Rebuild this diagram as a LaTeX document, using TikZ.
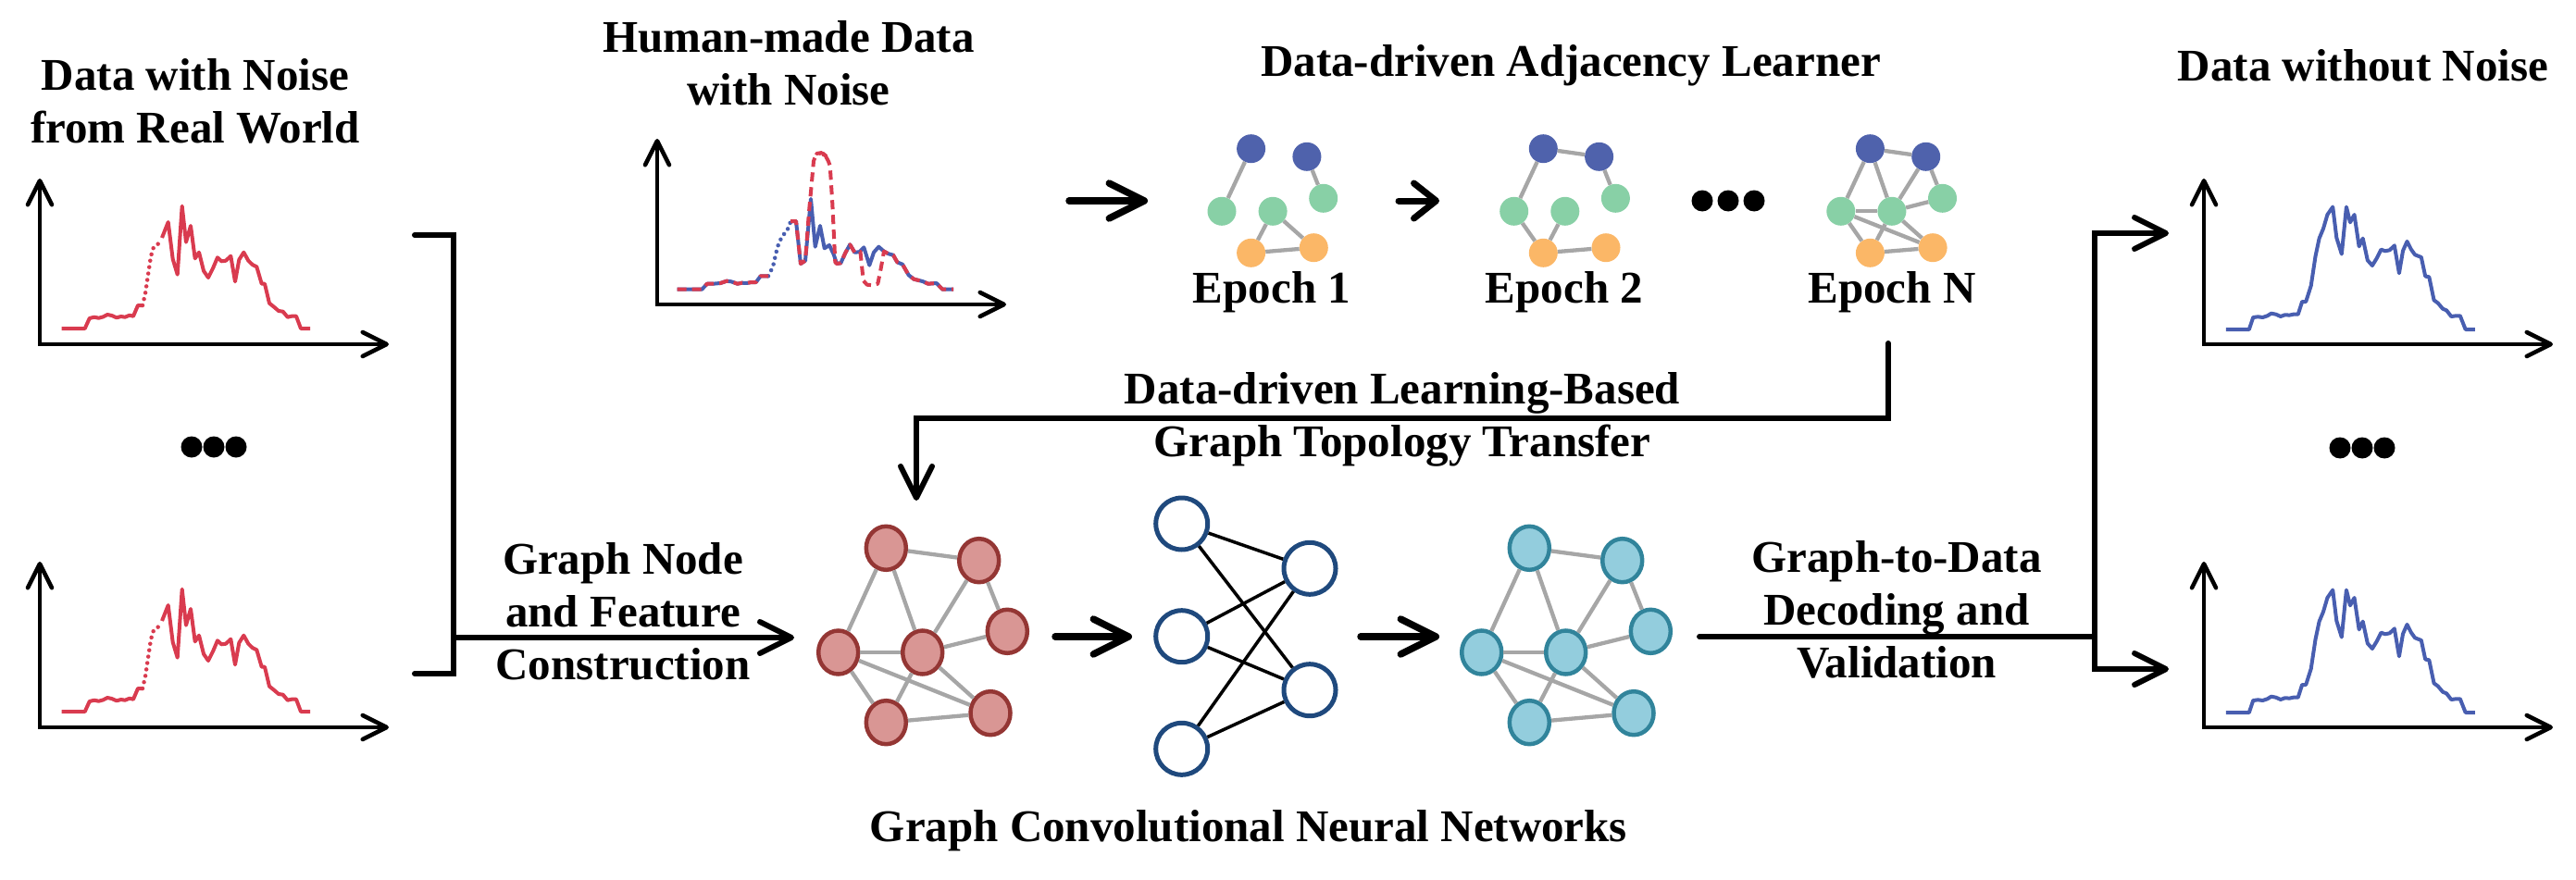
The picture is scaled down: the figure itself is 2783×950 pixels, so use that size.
\documentclass[tikz,border=0pt]{standalone}
\usepackage{fontspec}
\setmainfont{Liberation Serif}
\usetikzlibrary{arrows.meta,shapes.geometric}
\definecolor{cred}{RGB}{217,59,79}
\definecolor{cblue}{RGB}{72,94,176}
\definecolor{gblue}{RGB}{79,98,172}
\definecolor{ggreen}{RGB}{136,208,166}
\definecolor{gorange}{RGB}{251,183,103}
\definecolor{edgegray}{RGB}{166,166,166}
\definecolor{rfill}{RGB}{217,150,148}
\definecolor{rdraw}{RGB}{148,54,52}
\definecolor{cfill}{RGB}{147,205,221}
\definecolor{cdraw}{RGB}{49,132,155}
\definecolor{nnblue}{RGB}{31,73,125}
\tikzset{
  lbl/.style={font=\fontsize{49}{57}\selectfont\bfseries, align=center, inner sep=0pt},
  axes/.style={line width=4.5pt, line cap=round, line join=miter, {Straight Barb[length=26pt,width=26pt,round]}-{Straight Barb[length=26pt,width=26pt,round]}},
  curve/.style={line width=4pt, line join=round},
  dotcurve/.style={line width=4.5pt, line cap=round, dash pattern=on 0pt off 7pt},
  dashcurve/.style={line width=4pt, line join=round, dash pattern=on 10pt off 6pt},
  bigarrow/.style={line width=7.5pt, line cap=round, -{Straight Barb[length=38pt,width=38pt,round]}},
  smallarrow/.style={line width=7pt, line cap=round, -{Straight Barb[length=24pt,width=38pt,round]}},
  conn/.style={line width=6pt, line cap=round, line join=miter},
  connarrow/.style={conn, -{Straight Barb[length=34pt,width=34pt,round]}},
  gedge/.style={edgegray, line width=4.3pt},
  nnedge/.style={black, line width=3.5pt},
  enode/.style={circle, minimum size=31pt, inner sep=0pt},
  bn/.style={enode, fill=gblue},
  gn/.style={enode, fill=ggreen},
  on/.style={enode, fill=gorange},
  rnode/.style={ellipse, minimum width=43pt, minimum height=47pt, inner sep=0pt, fill=rfill, draw=rdraw, line width=4.5pt},
  cnode/.style={ellipse, minimum width=43pt, minimum height=47pt, inner sep=0pt, fill=cfill, draw=cdraw, line width=4.5pt},
  nnode/.style={circle, minimum size=56pt, inner sep=0pt, draw=nnblue, line width=5pt, fill=white},
  pics/redplot/.style={code={
    \draw[axes] (0,-179) -- (0,0) -- (377,0);
    \draw[curve,cred] (23.7,-17) -- (48.7,-17) -- (53.7,-28) -- (58.7,-29.3) -- (63.7,-28.3) -- (68.7,-29.7) -- (73,-32) -- (77.7,-31) -- (83,-28.7) -- (87.7,-30) -- (92,-29.3) -- (97,-31.3) -- (101,-30.3) -- (106,-42) -- (111,-42);
    \draw[dotcurve,cred] (111,-42) -- (114,-55) -- (117,-75) -- (120,-95) -- (123,-105) -- (130,-110);
    \draw[curve,cred] (132,-115) -- (138.7,-132) -- (143.7,-92) -- (148.7,-75.3) -- (153.7,-149.3) -- (158,-110.3) -- (163,-128) -- (167.7,-92.7) -- (172,-99.3) -- (177,-79.3) -- (182,-72) -- (187,-82) -- (192,-93.7) -- (196.3,-89.7) -- (201,-90.3) -- (206.3,-95.3) -- (211,-67.7) -- (215.3,-91.3) -- (220.3,-99.3) -- (225.3,-90.3) -- (229.7,-86) -- (234.3,-83.7) -- (239.7,-65.3) -- (243,-65.3) -- (248,-44.3) -- (253,-40.3) -- (258,-36) -- (262.7,-35.3) -- (267.7,-29.3) -- (272,-30.3) -- (277,-30.3) -- (282,-17) -- (292,-17);
  }},
  pics/blueplot/.style={code={
    \draw[axes] (0,-179) -- (0,0) -- (377,0);
    \draw[curve,cblue] (23.9,-16) -- (48.8,-16) -- (53.2,-29) -- (58.4,-29.7) -- (63.5,-29) -- (68.6,-30.7) -- (72.7,-33.3) -- (77.8,-32.3) -- (82.9,-30) -- (87.4,-31.7) -- (92.5,-31.4) -- (96.6,-32.3) -- (101.7,-32.3) -- (106.1,-46) -- (110.2,-46) -- (115.7,-63.3) -- (120.5,-95.1) -- (124.6,-114.4) -- (129,-125) -- (133.4,-140) -- (139.2,-148.4) -- (143.3,-115) -- (148.8,-97.4) -- (153.9,-148.4) -- (158,-131.7) -- (162.5,-140) -- (167.6,-105.7) -- (171.7,-114.4) -- (176.8,-90.7) -- (181.9,-85) -- (187,-93.4) -- (191.5,-102.4) -- (195.6,-100.7) -- (200.7,-101.7) -- (205.8,-106.7) -- (210.9,-76.7) -- (215,-101) -- (219.5,-111.1) -- (223.9,-102.4) -- (228,-96.7) -- (234.8,-94) -- (239.2,-73.4) -- (243.3,-72.7) -- (248.5,-47.7) -- (252.9,-44.4) -- (258,-38.3) -- (262.1,-36.6) -- (267.2,-30) -- (272.4,-30.7) -- (276.8,-30.7) -- (282.6,-16) -- (292.8,-16);
  }},
  pics/humanplot/.style={code={
    \draw[axes] (0,-179) -- (0,0) -- (377,0);
    \draw[curve,cblue] (21.7,-16.3) -- (48.3,-16.3) -- (54,-22.3) -- (60,-22.3) -- (68.3,-23) -- (75,-25.3) -- (80,-24.7) -- (86.7,-22.3) -- (91.7,-23.3) -- (96.7,-23) -- (101.7,-24) -- (106.7,-24) -- (111.7,-30.7) -- (120,-30.7);
    \draw[dotcurve,cblue] (120,-30.7) -- (125,-40.7) -- (130,-62.3) -- (135,-74) -- (140,-79) -- (144,-89);
    \draw[curve,cblue] (144,-90) -- (150,-90) -- (155,-44) -- (160,-47.3) -- (166,-114) -- (170.7,-62.3) -- (176,-85) -- (180.7,-60.7) -- (186,-64) -- (190.7,-54) -- (194,-44) -- (198.3,-44.7) -- (203.3,-55.7) -- (208.3,-64.7) -- (213.3,-56.3) -- (218.3,-56.7) -- (223.3,-61.7) -- (229.3,-42.3) -- (234,-56.3) -- (239.3,-62.3) -- (245,-57.3) -- (250,-54.7) -- (255,-53.3) -- (259.3,-45.7) -- (265,-43.3) -- (271.7,-31.7) -- (277.3,-27.3) -- (286.7,-25) -- (292.7,-22.3) -- (301.7,-23) -- (308.3,-16.3) -- (320,-16.3);
    \draw[dashcurve,cred] (21.7,-16.3) -- (48.3,-16.3) -- (54,-22.3) -- (60,-22.3) -- (68.3,-23) -- (75,-25.3) -- (80,-24.7) -- (86.7,-22.3) -- (91.7,-23.3) -- (96.7,-23) -- (101.7,-24) -- (106.7,-24) -- (111.7,-30.7) -- (120,-30.7);
    \draw[dashcurve,cred] (144,-90) -- (150,-90) -- (155,-44) -- (160,-47.3) -- (164,-100) -- (166.7,-129) -- (169,-155) [rounded corners=6pt] -- (172,-163) -- (178,-164) -- (183,-160) [sharp corners] -- (186.7,-150) -- (189.3,-109) -- (192.3,-45.7) -- (194,-44) -- (198.3,-44.7) -- (203.3,-55.7) -- (208.3,-64.7) -- (213.3,-56.3) -- (218.3,-56.7) -- (219.5,-57) -- (222.7,-25.7) -- (226.7,-21.3) -- (233.3,-20.7) -- (238.3,-22.3) -- (241.7,-39) -- (245,-57.3) -- (250,-54.7) -- (255,-53.3) -- (259.3,-45.7) -- (265,-43.3) -- (271.7,-31.7) -- (277.3,-27.3) -- (286.7,-25) -- (292.7,-22.3) -- (301.7,-23) -- (308.3,-16.3) -- (320,-16.3);
  }},
}
\begin{document}
\begin{tikzpicture}[x=1pt,y=-1pt]
\useasboundingbox (0,0) rectangle (2783,950);

% ---------- titles ----------
\node[lbl] (t1) at (211,109) {Data with Noise\\from Real World};
\node[lbl] (t2) at (852,68) {Human-made Data\\with Noise};
\node[lbl] (t3) at (1697,71) {Data-driven Adjacency Learner};
\node[lbl] (t4) at (2553,71) {Data without Noise};

% ---------- plots ----------
\pic (p1) at (43,372) {redplot};
\pic (p2) at (43,786) {redplot};
\pic (p3) at (710,329) {humanplot};
\pic (p4) at (2381,372) {blueplot};
\pic (p5) at (2381,786) {blueplot};

% dots
\foreach \xx in {207,231,255} \fill (\xx,483) circle (11.5);
\foreach \xx in {2528,2552,2576} \fill (\xx,484) circle (11.5);
\foreach \xx in {1839,1867,1895} \fill (\xx,217) circle (11.5);

% ---------- epoch graphs ----------
\begin{scope}[shift={(1351.6,160.7)}]
  \node[bn] (a1) at (0,0) {}; \node[bn] (a2) at (60.3,8.6) {};
  \node[gn] (a3) at (-31.6,67.6) {}; \node[gn] (a4) at (23.5,67.6) {}; \node[gn] (a5) at (78.1,53.6) {};
  \node[on] (a6) at (0,112.6) {}; \node[on] (a7) at (67.7,107) {};
\end{scope}
\begin{scope}[shift={(1667.3,160.7)}]
  \node[bn] (b1) at (0,0) {}; \node[bn] (b2) at (60.3,8.6) {};
  \node[gn] (b3) at (-31.6,67.6) {}; \node[gn] (b4) at (23.5,67.6) {}; \node[gn] (b5) at (78.1,53.6) {};
  \node[on] (b6) at (0,112.6) {}; \node[on] (b7) at (67.7,107) {};
\end{scope}
\begin{scope}[shift={(2020.4,160.7)}]
  \node[bn] (n1) at (0,0) {}; \node[bn] (n2) at (60.3,8.6) {};
  \node[gn] (n3) at (-31.6,67.6) {}; \node[gn] (n4) at (23.5,67.6) {}; \node[gn] (n5) at (78.1,53.6) {};
  \node[on] (n6) at (0,112.6) {}; \node[on] (n7) at (67.7,107) {};
\end{scope}
\foreach \u/\v in {a1/a3,a2/a5,a4/a6,a4/a7,a6/a7,
                   b1/b2,b1/b3,b2/b5,b3/b6,b4/b6,b6/b7,
                   n1/n2,n1/n3,n1/n4,n2/n4,n2/n5,n3/n4,n4/n5,n3/n6,n3/n7,n4/n6,n4/n7,n6/n7}
  \draw[gedge] (\u) -- (\v);

\node[lbl, anchor=base] (ep1) at (1374,327) {Epoch 1};
\node[lbl, anchor=base] (ep2) at (1690,327) {Epoch 2};
\node[lbl, anchor=base] (epN) at (2044,327) {Epoch N};

% ---------- GCN ----------
\node[rnode] (r1) at (957.3,592.3) {};
\node[rnode] (r2) at (1057.7,605.7) {};
\node[rnode] (r3) at (905.7,705) {};
\node[rnode] (r4) at (996.7,705) {};
\node[rnode] (r5) at (1088.3,682.3) {};
\node[rnode] (r6) at (957.3,780.7) {};
\node[rnode] (r7) at (1070,770.7) {};
\node[cnode] (c1) at (1652.3,592.3) {};
\node[cnode] (c2) at (1752.7,605.7) {};
\node[cnode] (c3) at (1600.7,705) {};
\node[cnode] (c4) at (1691.7,705) {};
\node[cnode] (c5) at (1783.3,682.3) {};
\node[cnode] (c6) at (1652.3,780.7) {};
\node[cnode] (c7) at (1765,770.7) {};
\foreach \p in {r,c}
  \foreach \u/\v in {1/2,1/3,1/4,2/4,2/5,3/4,3/6,3/7,4/5,4/6,4/7,6/7}
    \draw[gedge] (\p\u) -- (\p\v);

\node[nnode] (L1) at (1276.7,566) {};
\node[nnode] (L2) at (1276.7,687.7) {};
\node[nnode] (L3) at (1276.7,809.3) {};
\node[nnode] (R1) at (1415,614.3) {};
\node[nnode] (R2) at (1415,745.7) {};
\foreach \u in {L1,L2,L3}
  \foreach \v in {R1,R2}
    \draw[nnedge] (\u) -- (\v);

\node[lbl] (gcn) at (1349,898) {Graph Convolutional Neural Networks};

% ---------- arrows ----------
\coordinate (hmOut) at (1155,217);
\coordinate (e1In) at (1240,217);
\draw[bigarrow] (hmOut) -- (e1In);
\coordinate (e1Out) at (1511,217);
\coordinate (e2In) at (1555,217);
\draw[smallarrow] (e1Out) -- (e2In);
\coordinate (rOut) at (1140,688);
\coordinate (nnIn) at (1223,688);
\draw[bigarrow] (rOut) -- (nnIn);
\coordinate (nnOut) at (1470,688);
\coordinate (cIn) at (1555,688);
\draw[bigarrow] (nnOut) -- (cIn);

% bracket left
\coordinate (bT1) at (448,254);
\coordinate (bT2) at (490,254);
\coordinate (bB2) at (490,728);
\coordinate (bB1) at (448,728);
\coordinate (bJ) at (490,689);
\coordinate (gIn) at (858,689);
\draw[conn] (bT1) -- (bT2) -- (bB2) -- (bB1);
\draw[connarrow] (bJ) -- (gIn);
\node[lbl] (gnf) at (673,661) {Graph Node\\and Feature\\Construction};

% right distribution
\coordinate (cOut) at (1836,688);
\coordinate (rJ) at (2263,688);
\coordinate (rT) at (2263,252);
\coordinate (rB) at (2263,723);
\coordinate (rTe) at (2343,252);
\coordinate (rBe) at (2343,723);
\draw[conn] (cOut) -- (rJ);
\draw[connarrow] (rJ) -- (rT) -- (rTe);
\draw[connarrow] (rJ) -- (rB) -- (rBe);
\node[lbl] (g2d) at (2049,659) {Graph-to-Data\\Decoding and\\Validation};

% topology transfer
\coordinate (tA) at (2040,371);
\coordinate (tB) at (2040,452);
\coordinate (tC) at (990,452);
\coordinate (tD) at (990,541);
\draw[connarrow] (tA) -- (tB) -- (tC) -- (tD);
\node[lbl] (topo) at (1515,453) {Data-driven Learning-Based\\Graph Topology Transfer};
\end{tikzpicture}
\end{document}
